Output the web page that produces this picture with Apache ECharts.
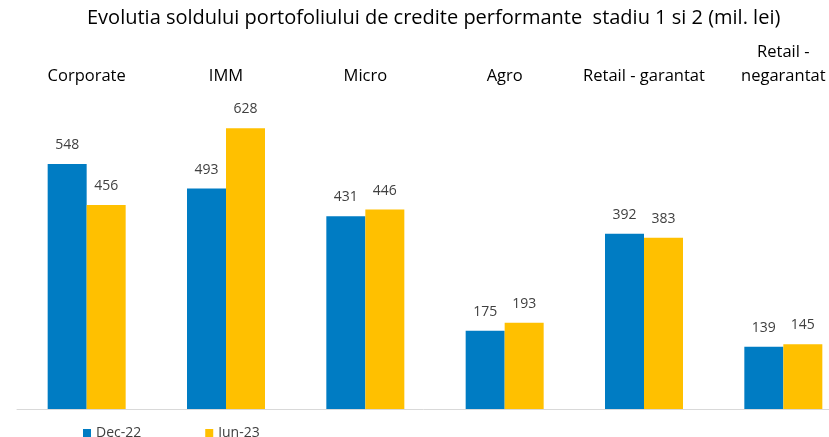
<!DOCTYPE html>
<html>
<head>
<meta charset="utf-8">
<script src="https://cdn.jsdelivr.net/npm/echarts@6/dist/echarts.min.js"></script>
<style>
  html, body { margin: 0; padding: 0; background: #fff; }
  #chart { width: 829px; height: 437px; }
</style>
</head>
<body>
<div id="chart"></div>
<script>
const categories = ['Corporate', 'IMM', 'Micro', 'Agro', 'Retail - garantat', 'Retail -\nnegarantat']
const dec22 = [548, 493, 431, 175, 392, 139]
const jun23 = [456, 628, 446, 193, 383, 145]

const chart = echarts.init(document.getElementById('chart'))
const font = 'Open Sans, Noto Sans, sans-serif'

const option = {
  animation: false,
  title: {
    text: 'Evolutia soldului portofoliului de credite performante  stadiu 1 si 2 (mil. lei)',
    left: 87,
    top: 8,
    padding: 0,
    textStyle: { fontFamily: font, fontSize: 20, fontWeight: 'normal', color: '#000' }
  },
  legend: {
    data: ['Dec-22', 'Jun-23'],
    left: 78,
    top: 421,
    icon: 'rect',
    itemWidth: 8,
    itemHeight: 8,
    itemGap: 64,
    textStyle: { fontFamily: font, fontSize: 14, color: '#404040' }
  },
  grid: {
    left: 17,
    width: 836,
    top: 96,
    bottom: 28,
    outerBoundsMode: 'none'
  },
  xAxis: [
    {
      type: 'category',
      data: categories,
      position: 'bottom',
      axisLine: { lineStyle: { color: '#d9d9d9' } },
      axisTick: { show: false },
      axisLabel: { show: false }
    },
    {
      type: 'category',
      data: categories,
      position: 'top',
      axisLine: { show: false },
      axisTick: { show: false },
      axisLabel: {
        interval: 0,
        margin: 8,
        fontFamily: font,
        fontSize: 16.5,
        lineHeight: 24,
        color: '#000'
      }
    }
  ],
  yAxis: {
    type: 'value',
    min: 0,
    max: 700,
    show: false,
    splitLine: { show: false }
  },
  series: [
    {
      name: 'Dec-22',
      type: 'bar',
      data: dec22,
      barWidth: 39,
      barGap: '0%',
      itemStyle: { color: '#007CC3' },
      label: { show: true, position: 'top', distance: 12, fontFamily: font, fontSize: 14, color: '#404040' }
    },
    {
      name: 'Jun-23',
      type: 'bar',
      data: jun23,
      barWidth: 39,
      barGap: '0%',
      itemStyle: { color: '#FFC000' },
      label: { show: true, position: 'top', distance: 12, fontFamily: font, fontSize: 14, color: '#404040' }
    }
  ]
}
chart.setOption(option)
</script>
</body>
</html>
